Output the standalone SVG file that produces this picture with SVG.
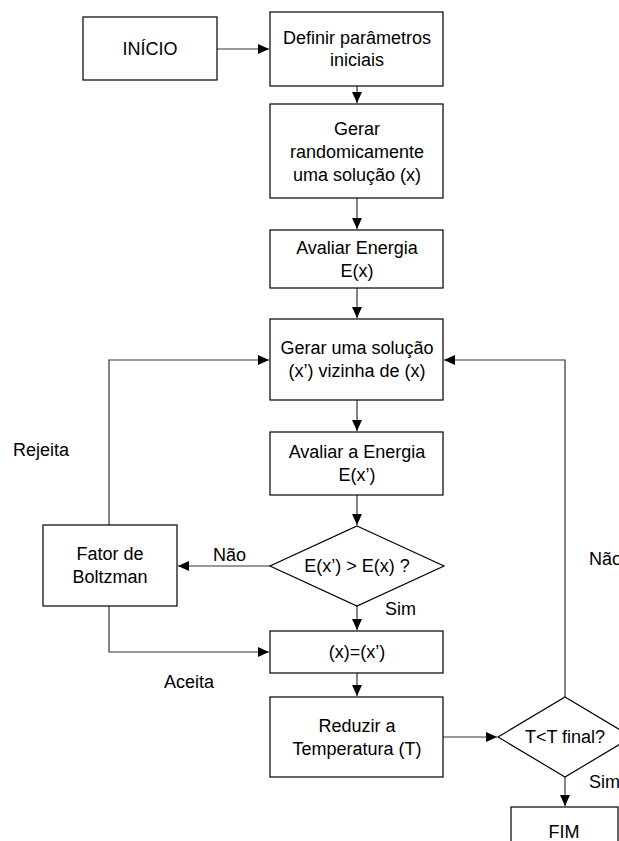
<svg xmlns="http://www.w3.org/2000/svg" width="619" height="841" viewBox="0 0 619 841">
<style>
.box{fill:#fff;stroke:#000;stroke-width:1.2}
.t{font-family:"Liberation Sans",Arial,sans-serif;font-size:18px;fill:#000;text-anchor:middle}
.l{font-family:"Liberation Sans",Arial,sans-serif;font-size:18px;fill:#000}
.c{fill:none;stroke:#333;stroke-width:1.2}
</style>
<defs>
<marker id="ah" markerUnits="userSpaceOnUse" markerWidth="12" markerHeight="10" refX="11" refY="5" orient="auto">
<path d="M0,0 L11,5 L0,10 Z" fill="#000"/>
</marker>
</defs>
<rect width="619" height="841" fill="#fff"/>
<g id="connectors">
<path class="c" d="M217,49 H269" marker-end="url(#ah)"/>
<path class="c" d="M357,86 V103" marker-end="url(#ah)"/>
<path class="c" d="M357,198 V229" marker-end="url(#ah)"/>
<path class="c" d="M357,288 V318" marker-end="url(#ah)"/>
<path class="c" d="M357,400 V431" marker-end="url(#ah)"/>
<path class="c" d="M357,495 V525" marker-end="url(#ah)"/>
<path class="c" d="M357,606 V630" marker-end="url(#ah)"/>
<path class="c" d="M357,673 V696" marker-end="url(#ah)"/>
<path class="c" d="M270,566 H178" marker-end="url(#ah)"/>
<path class="c" d="M109,525 V360 H269" marker-end="url(#ah)"/>
<path class="c" d="M109,606 V652 H269" marker-end="url(#ah)"/>
<path class="c" d="M443,737 H497" marker-end="url(#ah)"/>
<path class="c" d="M565,697 V360 H444" marker-end="url(#ah)"/>
<path class="c" d="M565,777 V806" marker-end="url(#ah)"/>
</g>
<g id="inicio"><rect class="box" x="83" y="17" width="134" height="63"/><text class="t" x="150" y="55">INÍCIO</text></g>
<g id="definir"><rect class="box" x="270" y="12" width="173" height="74"/><text class="t" x="357" y="44">Definir parâmetros</text><text class="t" x="357" y="66">iniciais</text></g>
<g id="gerar-rand"><rect class="box" x="270" y="104" width="173" height="94"/><text class="t" x="357" y="135">Gerar</text><text class="t" x="357" y="158">randomicamente</text><text class="t" x="357" y="181">uma solução (x)</text></g>
<g id="avaliar1"><rect class="box" x="270" y="230" width="173" height="58"/><text class="t" x="357" y="254">Avaliar Energia</text><text class="t" x="357" y="277">E(x)</text></g>
<g id="gerar-viz"><rect class="box" x="270" y="319" width="173" height="81"/><text class="t" x="357" y="354">Gerar uma solução</text><text class="t" x="357" y="377">(x’) vizinha de (x)</text></g>
<g id="avaliar2"><rect class="box" x="270" y="432" width="173" height="63"/><text class="t" x="357" y="458">Avaliar a Energia</text><text class="t" x="357" y="481">E(x’)</text></g>
<g id="decisao1"><polygon class="box" points="357,526 444,566 357,606 270,566"/><text class="t" x="357" y="572">E(x’) &gt; E(x) ?</text></g>
<g id="fator"><rect class="box" x="43" y="525" width="134" height="81"/><text class="t" x="110" y="560">Fator de</text><text class="t" x="110" y="583">Boltzman</text></g>
<g id="atribui"><rect class="box" x="270" y="631" width="173" height="42"/><text class="t" x="357" y="658">(x)=(x’)</text></g>
<g id="reduzir"><rect class="box" x="270" y="697" width="173" height="80"/><text class="t" x="357" y="732">Reduzir a</text><text class="t" x="357" y="755">Temperatura (T)</text></g>
<g id="decisao2"><polygon class="box" points="565,697 632,737 565,777 498,737"/><text class="t" x="565" y="743">T&lt;T final?</text></g>
<g id="fim"><rect class="box" x="511" y="807" width="107" height="50"/><text class="t" x="564" y="838">FIM</text></g>
<g id="labels">
<text class="l" x="13" y="456">Rejeita</text>
<text class="l" x="213" y="561">Não</text>
<text class="l" x="385" y="615">Sim</text>
<text class="l" x="164" y="688">Aceita</text>
<text class="l" x="589" y="565">Não</text>
<text class="l" x="589" y="788">Sim</text>
</g>
</svg>
